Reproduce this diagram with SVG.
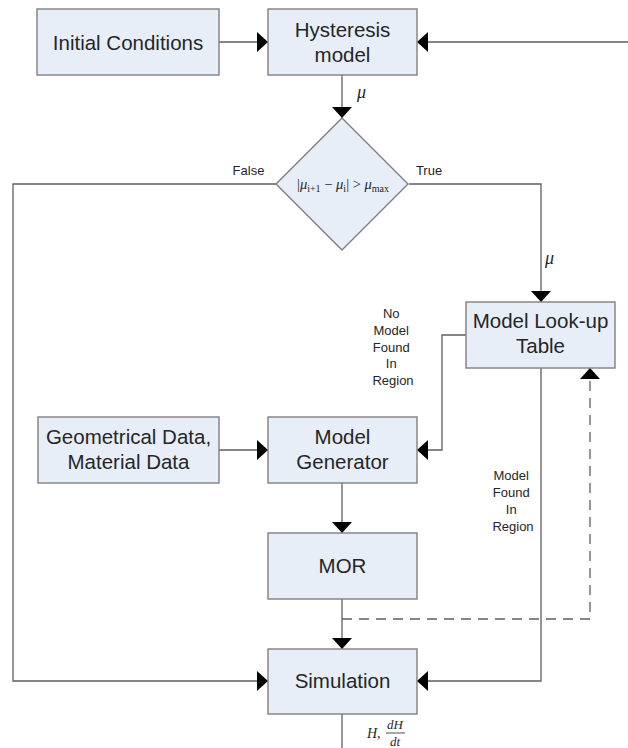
<svg xmlns="http://www.w3.org/2000/svg" width="628" height="748" viewBox="0 0 628 748">
  <style>
    .box { fill: #e8eef8; stroke: #7f7f7f; stroke-width: 1.4; }
    .lbl { font-family: "Liberation Sans", Arial, sans-serif; font-size: 20.5px; fill: #262626; text-anchor: middle; }
    .small { font-family: "Liberation Sans", Arial, sans-serif; font-size: 13px; fill: #262626; text-anchor: middle; }
    .math { font-family: "Liberation Serif", "Times New Roman", serif; fill: #262626; }
    .wire { fill: none; stroke: #5f5f5f; stroke-width: 1.3; }
    .dash { fill: none; stroke: #5f5f5f; stroke-width: 1.3; stroke-dasharray: 10 7; }
  </style>
  <defs>
    <marker id="arrow" viewBox="0 0 11 20" refX="11" refY="10" markerWidth="11" markerHeight="20" markerUnits="userSpaceOnUse" orient="auto">
      <path d="M0,0 L11,10 L0,20 Z" fill="#000"/>
    </marker>
  </defs>
  <rect width="628" height="748" fill="#fff"/>

  <!-- connectors -->
  <g id="connectors">
    <path class="wire" d="M219,42 H268" marker-end="url(#arrow)"/>
    <path class="wire" d="M628,42 H417" marker-end="url(#arrow)"/>
    <path class="wire" d="M342,75 V118" marker-end="url(#arrow)"/>
    <path class="wire" d="M277,184 H13 V681 H268" marker-end="url(#arrow)"/>
    <path class="wire" d="M409,184 H541 V302" marker-end="url(#arrow)"/>
    <path class="wire" d="M466,335 H442 V450 H417" marker-end="url(#arrow)"/>
    <path class="wire" d="M541,368 V681 H417" marker-end="url(#arrow)"/>
    <path class="wire" d="M219,450 H268" marker-end="url(#arrow)"/>
    <path class="wire" d="M342,483 V533" marker-end="url(#arrow)"/>
    <path class="wire" d="M342,599 V649" marker-end="url(#arrow)"/>
    <path class="dash" d="M342,619 H590 V368" marker-end="url(#arrow)"/>
    <path class="wire" d="M342,714 V748"/>

    <!-- connector labels -->
    <text class="math" x="357" y="98" font-size="18" font-style="italic">μ</text>
    <text class="math" x="545" y="264" font-size="18" font-style="italic">μ</text>
    <text class="small" x="248.5" y="175">False</text>
    <text class="small" x="429" y="175">True</text>
    <text class="small">
      <tspan x="393" y="318">No</tspan>
      <tspan x="393" y="335">Model</tspan>
      <tspan x="393" y="352">Found</tspan>
      <tspan x="393" y="368">In</tspan>
      <tspan x="393" y="385">Region</tspan>
    </text>
    <text class="small">
      <tspan x="513" y="480">Model</tspan>
      <tspan x="513" y="497">Found</tspan>
      <tspan x="513" y="514">In</tspan>
      <tspan x="513" y="531">Region</tspan>
    </text>
    <g id="output-label">
      <text class="math" x="367" y="738" font-size="14" font-style="italic">H,</text>
      <text class="math" x="395" y="729" font-size="13" font-style="italic" text-anchor="middle">dH</text>
      <line x1="386" y1="733" x2="405" y2="733" stroke="#262626" stroke-width="0.8"/>
      <text class="math" x="395" y="746" font-size="13" font-style="italic" text-anchor="middle">dt</text>
    </g>
  </g>

  <!-- nodes -->
  <g id="initial-conditions">
    <rect class="box" x="37" y="9" width="182" height="66"/>
    <text class="lbl" x="128" y="49.5">Initial Conditions</text>
  </g>
  <g id="hysteresis-model">
    <rect class="box" x="268" y="9" width="149" height="66"/>
    <text class="lbl"><tspan x="342.5" y="37">Hysteresis</tspan><tspan x="342.5" y="62">model</tspan></text>
  </g>
  <g id="decision">
    <polygon class="box" points="342,118 408,184 342,250 276,184"/>
    <text class="math" x="343" y="189" font-size="14.5" text-anchor="middle">|<tspan font-style="italic">μ</tspan><tspan font-size="10" dy="3">i+1</tspan><tspan dy="-3"> − </tspan><tspan font-style="italic">μ</tspan><tspan font-size="10" dy="3">i</tspan><tspan dy="-3">| &gt; </tspan><tspan font-style="italic">μ</tspan><tspan font-size="10" dy="3">max</tspan></text>
  </g>
  <g id="lookup-table">
    <rect class="box" x="466" y="302" width="149" height="66"/>
    <text class="lbl"><tspan x="540.5" y="328">Model Look-up</tspan><tspan x="540.5" y="353">Table</tspan></text>
  </g>
  <g id="geometry-data">
    <rect class="box" x="38" y="417" width="181" height="66"/>
    <text class="lbl"><tspan x="128.5" y="444">Geometrical Data,</tspan><tspan x="128.5" y="469">Material Data</tspan></text>
  </g>
  <g id="model-generator">
    <rect class="box" x="268" y="417" width="149" height="66"/>
    <text class="lbl"><tspan x="342.5" y="444">Model</tspan><tspan x="342.5" y="469">Generator</tspan></text>
  </g>
  <g id="mor">
    <rect class="box" x="268" y="533" width="149" height="66"/>
    <text class="lbl" x="342.5" y="573">MOR</text>
  </g>
  <g id="simulation">
    <rect class="box" x="268" y="649" width="149" height="65"/>
    <text class="lbl" x="342.5" y="688">Simulation</text>
  </g>
</svg>
